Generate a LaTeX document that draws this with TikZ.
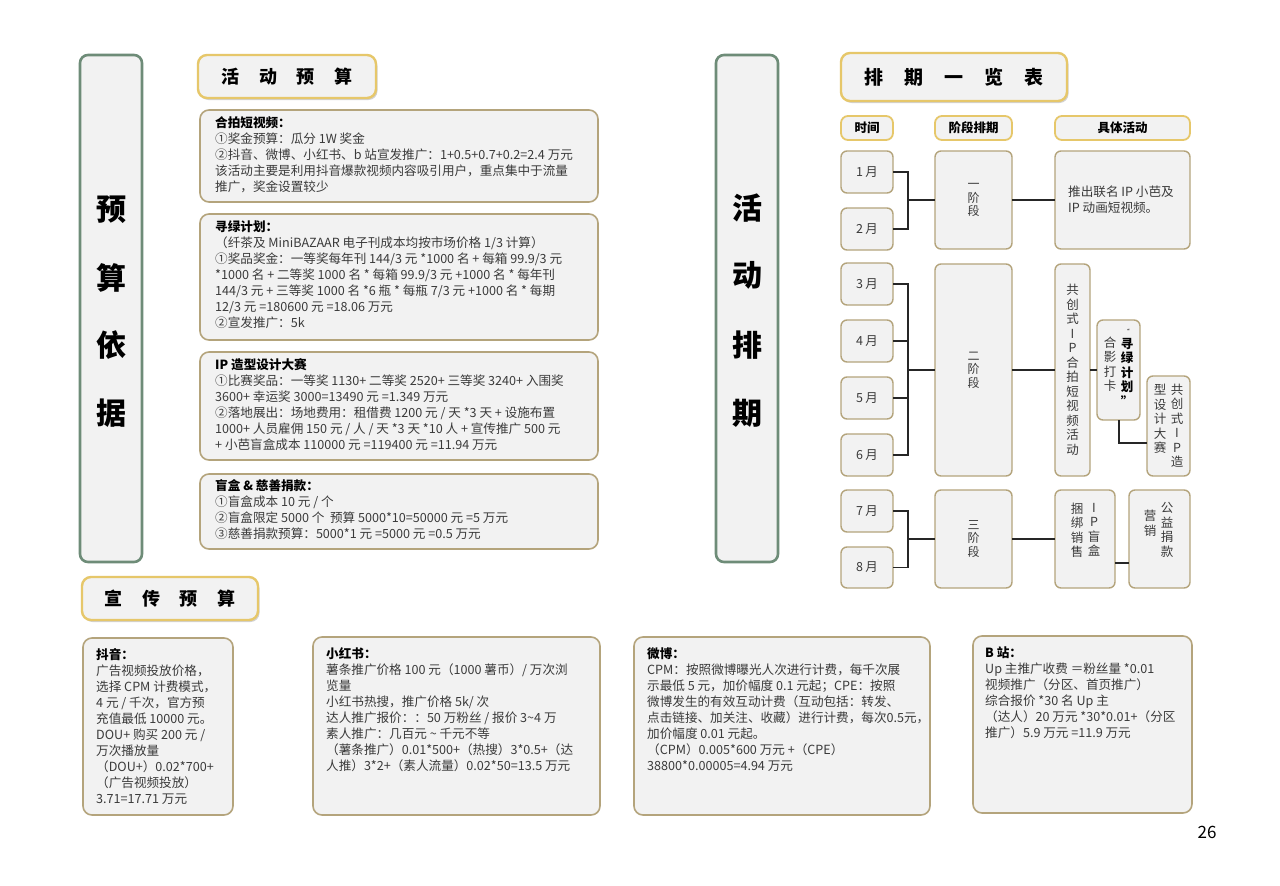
\documentclass[tikz,border=0pt]{standalone}
\usepackage{fontspec}
\setmainfont{Noto Sans CJK SC}
\usetikzlibrary{shadows}
\definecolor{boxb}{HTML}{B4A47C}
\definecolor{boxf}{HTML}{F2F2F2}
\definecolor{ttlb}{HTML}{E6C76A}
\definecolor{grn}{HTML}{6E8C78}
\definecolor{txt}{HTML}{3A3A3A}
\newcommand{\hd}[1]{{\bfseries\color{black}#1}}
\begin{document}
\begin{tikzpicture}[x=1pt,y=-1pt,
  box/.style={draw=boxb,fill=boxf,line width=1.6pt,rounded corners=9pt},
  sbox/.style={draw=boxb,fill=boxf,line width=1.4pt,rounded corners=6pt},
  ttl/.style={draw=ttlb,fill=boxf,line width=2.4pt,rounded corners=9pt,drop shadow={shadow xshift=1.5pt,shadow yshift=-2pt,opacity=0.35}},
  hbar/.style={draw=grn,fill=boxf,line width=2.6pt,rounded corners=8pt},
  body/.style={anchor=north west,inner sep=0pt,align=left,text=txt,font=\fontsize{12.6}{16}\selectfont},
  vt/.style={align=center,inner sep=0pt,text=txt,font=\fontsize{12.5}{14.5}\selectfont},
  ln/.style={draw=black!85,line width=1.4pt}]
\useasboundingbox (0,0) rectangle (1280,886);
\fill[white] (0,0) rectangle (1280,886);
% left bar
\draw[hbar] (80,55) rectangle (142,562);
\foreach \c/\y in {预/210,算/278,依/345,据/413}
  \node[font=\fontsize{30}{30}\bfseries\selectfont] at (111,\y) {\c};
% right bar
\draw[hbar] (716,55) rectangle (778,562);
\foreach \c/\y in {活/208,动/275,排/345,期/413}
  \node[font=\fontsize{30}{30}\bfseries\selectfont] at (747,\y) {\c};
% titles
\draw[ttl] (198,55) rectangle (376,98);
\node[font=\fontsize{18}{18}\bfseries\selectfont] (t1) at (287,77) {活\hspace{1.1em}动\hspace{1.1em}预\hspace{1.1em}算};
\draw[ttl] (82,577) rectangle (258,620);
\node[font=\fontsize{18}{18}\bfseries\selectfont] (t2) at (170,599) {宣\hspace{1.1em}传\hspace{1.1em}预\hspace{1.1em}算};
\draw[ttl] (841,53) rectangle (1067,101);
\node[font=\fontsize{19}{19}\bfseries\selectfont] (t3) at (954,77) {排\hspace{1.1em}期\hspace{1.1em}一\hspace{1.1em}览\hspace{1.1em}表};
% budget boxes
\draw[box] (200,110) rectangle (598,202);
\node[body] (b1) at (215,116) {\hd{合拍短视频：}\\①奖金预算：瓜分 1W 奖金\\②抖音、微博、小红书、b 站宣发推广：1+0.5+0.7+0.2=2.4 万元\\该活动主要是利用抖音爆款视频内容吸引用户，重点集中于流量\\推广，奖金设置较少};
\draw[box] (200,214) rectangle (598,340);
\node[body] (b2) at (215,220) {\hd{寻绿计划：}\\（纤茶及 MiniBAZAAR 电子刊成本均按市场价格 1/3 计算）\\①奖品奖金：一等奖每年刊 144/3 元 *1000 名 + 每箱 99.9/3 元\\*1000 名 + 二等奖 1000 名 * 每箱 99.9/3 元 +1000 名 * 每年刊\\144/3 元 + 三等奖 1000 名 *6 瓶 * 每瓶 7/3 元 +1000 名 * 每期\\12/3 元 =180600 元 =18.06 万元\\②宣发推广：5k};
\draw[box] (200,352) rectangle (598,460);
\node[body] (b3) at (215,358) {\hd{IP 造型设计大赛}\\①比赛奖品：一等奖 1130+ 二等奖 2520+ 三等奖 3240+ 入围奖\\3600+ 幸运奖 3000=13490 元 =1.349 万元\\②落地展出：场地费用：租借费 1200 元 / 天 *3 天 + 设施布置\\1000+ 人员雇佣 150 元 / 人 / 天 *3 天 *10 人 + 宣传推广 500 元\\+ 小芭盲盒成本 110000 元 =119400 元 =11.94 万元};
\draw[box] (200,474) rectangle (598,549);
\node[body] (b4) at (215,479) {\hd{盲盒 \& 慈善捐款：}\\①盲盒成本 10 元 / 个\\②盲盒限定 5000 个\ \ 预算 5000*10=50000 元 =5 万元\\③慈善捐款预算：5000*1 元 =5000 元 =0.5 万元};
% promo boxes
\draw[box] (83,638) rectangle (233,815);
\node[body] (p1) at (96,648) {\hd{抖音：}\\广告视频投放价格，\\选择 CPM 计费模式，\\4 元 / 千次，官方预\\充值最低 10000 元。\\DOU+ 购买 200 元 /\\万次播放量\\（DOU+）0.02*700+\\（广告视频投放）\\3.71=17.71 万元};
\draw[box] (313,637) rectangle (600,815);
\node[body] (p2) at (326,647) {\hd{小红书：}\\薯条推广价格 100 元（1000 薯币）/ 万次浏\\览量\\小红书热搜，推广价格 5k/ 次\\达人推广报价：：50 万粉丝 / 报价 3\textasciitilde4 万\\素人推广：几百元 \textasciitilde\ 千元不等\\（薯条推广）0.01*500+（热搜）3*0.5+（达\\人推）3*2+（素人流量）0.02*50=13.5 万元};
\draw[box] (634,637) rectangle (930,815);
\node[body] (p3) at (647,647) {\hd{微博：}\\CPM：按照微博曝光人次进行计费，每千次展\\示最低 5 元，加价幅度 0.1 元起；CPE：按照\\微博发生的有效互动计费（互动包括：转发、\\点击链接、加关注、收藏）进行计费，每次0.5元，\\加价幅度 0.01 元起。\\（CPM）0.005*600 万元 +（CPE）\\38800*0.00005=4.94 万元};
\draw[box] (973,636) rectangle (1192,813);
\node[body] (p4) at (985,647) {\hd{B 站：}\\Up 主推广收费 ＝粉丝量 *0.01\\视频推广（分区、首页推广）\\综合报价 *30 名 Up 主\\（达人）20 万元 *30*0.01+（分区\\推广）5.9 万元 =11.9 万元};
% schedule headers
\tikzset{hdr/.style={draw=ttlb,fill=boxf,line width=1.8pt,rounded corners=7pt}}
\draw[hdr] (841,116) rectangle (893,140); \node[font=\fontsize{12.5}{14}\bfseries\selectfont] (h1) at (867,128) {时间};
\draw[hdr] (935,116) rectangle (1012,140); \node[font=\fontsize{12.5}{14}\bfseries\selectfont] (h2) at (973.5,128) {阶段排期};
\draw[hdr] (1055,116) rectangle (1190,140); \node[font=\fontsize{12.5}{14}\bfseries\selectfont] (h3) at (1122.5,128) {具体活动};
% months
\foreach \n/\t/\b in {1/151/193,2/208/250,3/263/305,4/320/362,5/377/419,6/434/476,7/490/532,8/547/588}{
  \draw[sbox] (841,\t) rectangle (893,\b);
  \node[vt] (m\n) at (867,{(\t+\b)/2}) {\n\,月};
  \coordinate (mr\n) at (893,{(\t+\b)/2});
}
% stages
\draw[sbox] (935,151) rectangle (1012,249); \node[vt,font=\fontsize{12}{13.5}\selectfont] (s1) at (973.5,200) {一\\阶\\段};
\draw[sbox] (935,264) rectangle (1012,476); \node[vt,font=\fontsize{12}{13.5}\selectfont] (s2) at (973.5,370) {二\\阶\\段};
\draw[sbox] (935,490) rectangle (1012,588); \node[vt,font=\fontsize{12}{13.5}\selectfont] (s3) at (973.5,539) {三\\阶\\段};
% activities
\draw[sbox] (1055,151) rectangle (1190,249);
\node[body,anchor=west] (a1) at (1068,200) {推出联名 IP 小芭及\\IP 动画短视频。};
\draw[sbox] (1055,264) rectangle (1090,476);
\node[vt] (a2) at (1072.5,370) {共\\创\\式\\I\\P\\合\\拍\\短\\视\\频\\活\\动};
\draw[sbox] (1097,320) rectangle (1140,420);
\node[vt,font=\fontsize{12.5}{14.5}\bfseries\selectfont,text=black] (a3r) at (1127,368) {\tiny“\\寻\\绿\\计\\划\\”};
\node[vt] (a3l) at (1110,364) {合\\影\\打\\卡};
\draw[sbox] (1147,376) rectangle (1190,476);
\node[vt] (a4r) at (1177,426) {共\\创\\式\\I\\P\\造};
\node[vt] (a4l) at (1160,419) {型\\设\\计\\大\\赛};
\draw[sbox] (1055,490) rectangle (1115,588);
\node[vt] (a5r) at (1094,530) {I\\P\\盲\\盒};
\node[vt] (a5l) at (1077,530) {捆\\绑\\销\\售};
\draw[sbox] (1129,490) rectangle (1190,588);
\node[vt] (a6r) at (1167,530) {公\\益\\捐\\款};
\node[vt] (a6l) at (1150,523) {营\\销};
% connectors
\draw[ln] (mr1) -| (908,229) -- (mr2);
\draw[ln] (908,200) -- (935,200);
\draw[ln] (1012,200) -- (1055,200);
\draw[ln] (mr3) -| (908,455) -- (mr6);
\draw[ln] (mr4) -- (908,341);
\draw[ln] (mr5) -- (908,398);
\draw[ln] (908,370) -- (935,370);
\draw[ln] (1012,370) -- (1055,370);
\draw[ln] (1090,370) -- (1097,370);
\draw[ln] (1119,420) |- (1147,443);
\draw[ln] (mr7) -| (908,567.5) -- (mr8);
\draw[ln] (908,539) -- (935,539);
\draw[ln] (1012,539) -- (1055,539);
\draw[ln] (1115,563) -- (1129,563);
% page number
\node[font=\fontsize{17}{17}\selectfont] (pg) at (1207,832) {26};
\end{tikzpicture}
\end{document}
